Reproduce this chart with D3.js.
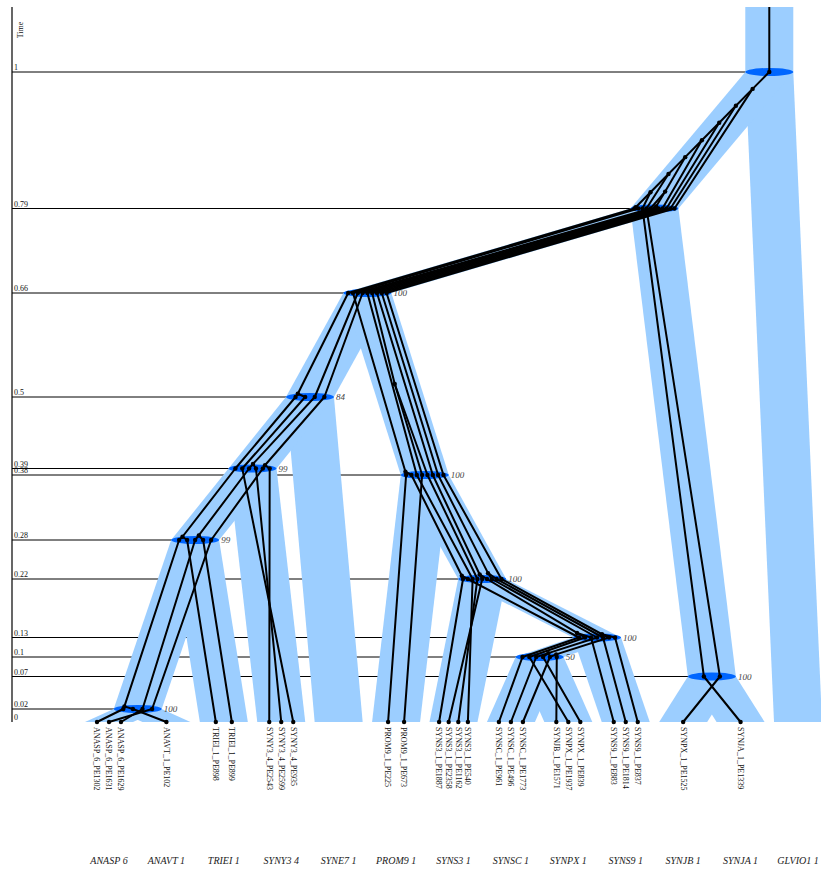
<!DOCTYPE html>
<html>
<head>
<meta charset="utf-8">
<script src="https://cdn.jsdelivr.net/npm/d3@7"></script>
<style>
  body { margin: 0; background: #fff; }
  svg { display: block; }
  text { font-family: "Liberation Serif", "DejaVu Serif", serif; }
</style>
</head>
<body>
<svg id="chart" width="821" height="873"></svg>
<script>
// ---- Species (leaf order, left to right) ----
const speciesNames = ["ANASP 6", "ANAVT 1", "TRIEI 1", "SYNY3 4", "SYNE7 1", "PROM9 1",
  "SYNS3 1", "SYNSC 1", "SYNPX 1", "SYNS9 1", "SYNJB 1", "SYNJA 1", "GLVIO1 1"];

// Internal species nodes: [id, left child, right child, time, support]
const speciesNodes = [
  ["H", "ANASP 6", "ANAVT 1", 0.02, 100],
  ["G", "H", "TRIEI 1", 0.28, 99],
  ["F", "G", "SYNY3 4", 0.39, 99],
  ["D", "F", "SYNE7 1", 0.5, 84],
  ["K", "SYNSC 1", "SYNPX 1", 0.1, 50],
  ["J", "K", "SYNS9 1", 0.13, 100],
  ["I", "SYNS3 1", "J", 0.22, 100],
  ["E", "PROM9 1", "I", 0.38, 100],
  ["B", "D", "E", 0.66, 100],
  ["C", "SYNJB 1", "SYNJA 1", 0.07, 100],
  ["A", "B", "C", 0.79, null],
  ["R", "A", "GLVIO1 1", 1, null]
];

// Time axis labels
const timeTicks = [0, 0.02, 0.07, 0.1, 0.13, 0.22, 0.28, 0.38, 0.39, 0.5, 0.66, 0.79, 1];
const timeTop = 1.1;

// ---- Gene tree ----
// Sampled genes: [gene name, species column it is drawn in]
const geneTips = [
  ["ANASP_6_PE1302", "ANASP 6"], ["ANASP_6_PE1631", "ANASP 6"], ["ANASP_6_PE1629", "ANASP 6"],
  ["ANAVT_1_PE102", "ANAVT 1"],
  ["TRIEI_1_PE898", "TRIEI 1"], ["TRIEI_1_PE899", "TRIEI 1"],
  ["SYNY3_4_PE2543", "SYNY3 4"], ["SYNY3_4_PE2599", "SYNY3 4"], ["SYNY3_4_PE935", "SYNY3 4"],
  ["PROM9_1_PE225", "PROM9 1"], ["PROM9_1_PE673", "PROM9 1"],
  ["SYNS3_1_PE1887", "SYNS3 1"], ["SYNS3_1_PE2358", "SYNS3 1"], ["SYNS3_1_PE1162", "SYNS3 1"], ["SYNS3_1_PE540", "SYNS3 1"],
  ["SYNSC_1_PE961", "SYNSC 1"], ["SYNSC_1_PE496", "SYNSC 1"], ["SYNSC_1_PE1773", "SYNSC 1"],
  ["SYNJB_1_PE1571", "SYNPX 1"], ["SYNPX_1_PE1937", "SYNPX 1"], ["SYNPX_1_PE839", "SYNPX 1"],
  ["SYNS9_1_PE883", "SYNS9 1"], ["SYNS9_1_PE1814", "SYNS9 1"], ["SYNS9_1_PE837", "SYNS9 1"],
  ["SYNPX_1_PE1525", "SYNJB 1"],
  ["SYNJA_1_PE1339", "SYNJA 1"]
];

// Gene coalescences: [id, left child, right child, time]  (children listed before parents)
const geneNodes = [
  ["g01", "ANASP_6_PE1302", "ANAVT_1_PE102", 0.024],
  ["g02", "g01", "TRIEI_1_PE898", 0.285],
  ["g03", "ANASP_6_PE1629", "TRIEI_1_PE899", 0.287],
  ["g04", "ANASP_6_PE1631", "SYNY3_4_PE2543", 0.395],
  ["g05", "g03", "SYNY3_4_PE2599", 0.397],
  ["g06", "g02", "SYNY3_4_PE935", 0.505],
  ["g07", "SYNSC_1_PE1773", "SYNJB_1_PE1571", 0.104],
  ["g08", "SYNSC_1_PE496", "SYNPX_1_PE839", 0.106],
  ["g09", "g07", "SYNS9_1_PE837", 0.135],
  ["g10", "SYNPX_1_PE1937", "SYNS9_1_PE883", 0.137],
  ["g11", "SYNS3_1_PE1887", "SYNSC_1_PE961", 0.225],
  ["g12", "SYNS3_1_PE2358", "g10", 0.227],
  ["g13", "g08", "SYNS9_1_PE1814", 0.229],
  ["g14", "PROM9_1_PE225", "g11", 0.385],
  ["g15", "PROM9_1_PE673", "SYNS3_1_PE1162", 0.52],
  ["g16", "g06", "g14", 0.792],
  ["g17", "g04", "SYNS3_1_PE540", 0.793],
  ["g18", "g16", "SYNJA_1_PE1339", 0.815],
  ["g19", "g05", "g17", 0.816],
  ["g20", "g18", "SYNPX_1_PE1525", 0.843],
  ["g21", "g20", "g19", 0.869],
  ["g22", "g21", "g15", 0.895],
  ["g23", "g22", "g12", 0.922],
  ["g24", "g23", "g13", 0.948],
  ["g25", "g24", "g09", 0.974]
];

// ---- Layout ----
const svg = d3.select("#chart");
const bandW = 48;
const axisX = 12;
const y = d3.scaleLinear().domain([0, timeTop]).range([722, 7]);
const xTip = d3.scalePoint().domain(speciesNames).range([109, 798]);

// species tree
const sp = new Map();
speciesNames.forEach(n => sp.set(n, { id: n, t: 0, x: xTip(n), children: [] }));
speciesNodes.forEach(([id, l, r, t, s]) => {
  const node = { id, t, support: s, children: [sp.get(l), sp.get(r)] };
  node.children.forEach(c => c.parent = node);
  sp.set(id, node);
});
const leavesOf = n => n.children.length ? n.children.flatMap(leavesOf) : [n];
speciesNodes.forEach(([id]) => {
  const n = sp.get(id);
  const L = leavesOf(n.children[0]), R = leavesOf(n.children[1]);
  // a split sits halfway between the two leaves that flank it
  n.x = (d3.max(L, d => d.x) + d3.min(R, d => d.x)) / 2;
});
const internalSp = speciesNodes.map(d => sp.get(d[0]));

const ancestors = s => { const a = []; while (s) { a.push(s); s = s.parent; } return a; };
function mrca(a, b) { const A = new Set(ancestors(a)); let s = b; while (!A.has(s)) s = s.parent; return s; }

// gene tree
const gn = new Map();
const colCount = d3.rollup(geneTips, v => v.length, d => d[1]);
const colIdx = new Map();
geneTips.forEach(([name, col]) => {
  const i = colIdx.get(col) || 0; colIdx.set(col, i + 1);
  const s = sp.get(col);
  gn.set(name, { id: name, t: 0, branch: s, children: [], tip: true,
    x: s.x - bandW / 2 + bandW * (i + 1) / (colCount.get(col) + 1) });
});
function branchFor(children, t) {
  let s = children.map(c => c.branch).reduce(mrca);
  while (s.parent && t >= s.parent.t) s = s.parent;
  return s;
}
geneNodes.forEach(([id, l, r, t]) => {
  const node = { id, t, children: [gn.get(l), gn.get(r)] };
  node.children.forEach(c => c.parent = node);
  node.branch = branchFor(node.children, t);
  gn.set(id, node);
});
const gRoot = gn.get(geneNodes[geneNodes.length - 1][0]);
const stem = { id: "stem", t: timeTop, children: [gRoot] };
gRoot.parent = stem;
stem.branch = branchFor(stem.children, timeTop);

// leaf order of the gene tree
let k = 0;
(function dfs(n) { n.first = k; if (!n.children.length) k++; n.children.forEach(dfs); })(stem);

// species splits each gene lineage passes through
const edges = Array.from(gn.values());
edges.forEach(c => {
  c.cross = [];
  let s = c.branch;
  while (s !== c.parent.branch) { s = s.parent; c.cross.push({ node: s, t: s.t }); }
});
const crossAt = new Map();
edges.forEach(c => c.cross.forEach(cp => {
  if (!crossAt.has(cp.node)) crossAt.set(cp.node, []);
  crossAt.get(cp.node).push({ c, cp });
}));
crossAt.forEach((list, s) => {
  list.sort((a, b) => a.c.first - b.c.first);
  const n = list.length;
  list.forEach((d, i) => { d.cp.x = s.x - bandW / 2 + bandW * (i + 1) / (n + 1); });
});

// a coalescence lies on the path from its first child toward the top of its branch
const lastPoint = c => c.cross.length ? c.cross[c.cross.length - 1] : { x: c.x, t: c.t };
function place(p) {
  const b = p.branch;
  const topT = b.parent ? b.parent.t : timeTop;
  const topX = b.parent ? b.parent.x : b.x;
  const s = lastPoint(p.children[0]);
  p.x = s.x + (topX - s.x) * (p.t - s.t) / (topT - s.t);
}
geneNodes.forEach(([id]) => place(gn.get(id)));
place(stem);

// ---- Drawing ----
// time guide lines to each species split
svg.append("g").selectAll("line").data(internalSp).join("line")
  .attr("x1", axisX).attr("x2", d => d.x)
  .attr("y1", d => y(d.t)).attr("y2", d => y(d.t))
  .attr("stroke", "#000").attr("stroke-width", 1);

svg.append("line").attr("x1", axisX).attr("x2", axisX)
  .attr("y1", y(timeTop)).attr("y2", y(0))
  .attr("stroke", "#000").attr("stroke-width", 1.2);

svg.append("g").selectAll("text").data(timeTicks).join("text")
  .attr("x", axisX + 2).attr("y", d => y(d) - 2)
  .attr("font-size", 8).attr("fill", "#111")
  .text(d => d3.format("")(d));

svg.append("text")
  .attr("transform", `translate(${axisX + 11},30) rotate(-90)`)
  .attr("text-anchor", "middle").attr("font-size", 8).attr("fill", "#111")
  .text("Time");

// species branches
const spAll = Array.from(sp.values());
svg.append("g").selectAll("path").data(spAll).join("path")
  .attr("fill", "#9cceff")
  .attr("d", b => {
    const top = b.parent ? { x: b.parent.x, t: b.parent.t } : { x: b.x, t: timeTop };
    const h = bandW / 2;
    return d3.line()([[b.x - h, y(b.t)], [b.x + h, y(b.t)], [top.x + h, y(top.t)], [top.x - h, y(top.t)]]) + "Z";
  });

// species splits
svg.append("g").selectAll("ellipse").data(internalSp).join("ellipse")
  .attr("cx", d => d.x).attr("cy", d => y(d.t))
  .attr("rx", bandW / 2).attr("ry", 4)
  .attr("fill", "#0066ff");

svg.append("g").selectAll("text").data(internalSp.filter(d => d.support != null)).join("text")
  .attr("x", d => d.x + 26).attr("y", d => y(d.t) + 3)
  .attr("font-size", 9).attr("font-style", "italic").attr("fill", "#444")
  .text(d => d.support);

// gene lineages
const linePath = d3.line().x(d => d.x).y(d => y(d.t));
svg.append("g").selectAll("path").data(edges).join("path")
  .attr("fill", "none").attr("stroke", "#000").attr("stroke-width", 2)
  .attr("stroke-linejoin", "round")
  .attr("d", c => linePath([{ x: c.x, t: c.t }, ...c.cross, { x: c.parent.x, t: c.parent.t }]));

const dots = edges.map(c => ({ x: c.x, t: c.t })).concat(edges.flatMap(c => c.cross));
svg.append("g").selectAll("circle").data(dots).join("circle")
  .attr("cx", d => d.x).attr("cy", d => y(d.t)).attr("r", 2.2).attr("fill", "#000");

// gene names
svg.append("g").selectAll("text").data(edges.filter(d => d.tip)).join("text")
  .attr("transform", d => `translate(${d.x},${y(0) + 5}) rotate(90)`)
  .attr("dy", "0.33em").attr("font-size", 8).attr("fill", "#111")
  .text(d => d.id);

// species names
svg.append("g").selectAll("text").data(speciesNames).join("text")
  .attr("x", d => xTip(d)).attr("y", 864)
  .attr("text-anchor", "middle").attr("font-size", 10).attr("font-style", "italic").attr("fill", "#222")
  .text(d => d);
</script>
</body>
</html>
